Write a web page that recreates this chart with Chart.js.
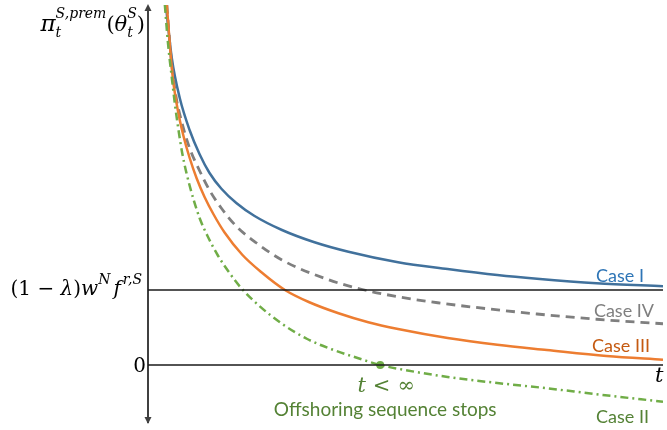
<!DOCTYPE html>
<html>
<head>
<meta charset="utf-8">
<script src="https://cdn.jsdelivr.net/npm/chart.js@4.4.1/dist/chart.umd.min.js"></script>
<style>
  html, body { margin: 0; padding: 0; background: #fff; }
  #wrap { width: 667px; height: 430px; }
</style>
</head>
<body>
<div id="wrap"><canvas id="chart" width="667" height="430"></canvas></div>
<script>
// ===============================
// DATA
// ===============================
const tCaseI = [1.8, 2.4, 3.2, 4.2, 5.2, 6.2, 7.4, 8.9, 10.7, 13.5, 16.7, 20.2, 25.2, 30.2, 35.2, 39.2, 45.2, 51.9];
const yCaseI = [4.8, 4.09, 3.56, 3.13, 2.81, 2.56, 2.35, 2.16, 1.99, 1.8, 1.64, 1.51, 1.37, 1.28, 1.2, 1.15, 1.09, 1.05];

const tCaseIV = [1.9, 2.3, 2.8, 3.4, 4.2, 5.2, 6.2, 7.4, 8.9, 10.9, 13.5, 17.9, 21.5, 25.2, 29.2, 34.2, 39.2, 45.2, 51.9];
const yCaseIV = [4.8, 4.13, 3.6, 3.24, 2.89, 2.59, 2.33, 2.09, 1.85, 1.63, 1.4, 1.15, 1.01, 0.91, 0.83, 0.75, 0.68, 0.61, 0.55];

const tCaseIII = [1.9, 2.2, 2.5, 3.0, 3.6, 4.2, 4.9, 5.7, 6.6, 7.7, 9.5, 11.4, 13.8, 16.2, 19.2, 22.2, 25.2, 30.2, 35.2, 40.2, 46.2, 51.9];
const yCaseIII = [4.8, 4.27, 3.83, 3.4, 3.04, 2.76, 2.49, 2.24, 2.01, 1.77, 1.47, 1.24, 1.0, 0.84, 0.69, 0.57, 0.48, 0.36, 0.27, 0.2, 0.12, 0.07];

const tCaseII = [1.7, 2.0, 2.4, 2.7, 3.1, 3.5, 4.2, 5.2, 6.0, 7.0, 8.2, 9.3, 11.2, 13.5, 16.0, 18.5, 21.2, 23.4, 25.2, 30.2, 35.2, 40.2, 45.2, 51.9];
const yCaseII = [4.8, 4.31, 3.83, 3.49, 3.11, 2.79, 2.39, 1.96, 1.72, 1.47, 1.23, 1.04, 0.79, 0.55, 0.35, 0.21, 0.09, 0.0, -0.05, -0.16, -0.24, -0.31, -0.39, -0.49];

// reference levels: 0 and (1-λ)w^N f^{r,S}
const levels = [0, 1];
const tRange = [0, 51.9];
const yRange = [-0.8, 4.8];

// point where Case II crosses zero
const stopPoint = { x: 23.4, y: 0 };

// colours
const C_BLUE = "#41719c";
const C_GREY = "#7f7f7f";
const C_ORANGE = "#ed7d31";
const C_GREEN = "#70ad47";

function zip(ts, ys) {
  return ts.map((t, i) => ({ x: t, y: ys[i] }));
}

function curve(label, ts, ys, color, dash, width) {
  return {
    label,
    data: zip(ts, ys),
    borderColor: color,
    borderWidth: width,
    borderDash: dash,
    pointRadius: 0,
    fill: false,
    cubicInterpolationMode: "monotone",
  };
}

function levelLine(y) {
  return {
    label: "level " + y,
    data: [{ x: tRange[0], y }, { x: tRange[1], y }],
    borderColor: "#1a1a1a",
    borderWidth: 1.5,
    pointRadius: 0,
    fill: false,
  };
}

// ===============================
// TEXT HELPERS
// ===============================
const SERIF = "'DejaVu Serif'";
function drawRich(ctx, x, y, parts, measureOnly) {
  let cx = x;
  parts.forEach(p => {
    if (p.stack) {
      let w = 0;
      p.stack.forEach(s => {
        ctx.font = s.f;
        if (!measureOnly) ctx.fillText(s.t, cx, y + s.dy);
        w = Math.max(w, ctx.measureText(s.t).width);
      });
      cx += w;
    } else {
      ctx.font = p.f;
      if (!measureOnly) ctx.fillText(p.t, cx, y + (p.dy || 0));
      cx += ctx.measureText(p.t).width + (p.gap || 0);
    }
  });
  return cx - x;
}

const big = "italic 21px " + SERIF;
const bigUp = "21px " + SERIF;
const small = "italic 14px " + SERIF;
const mid = "italic 20px " + SERIF;
const midUp = "20px " + SERIF;

const yLabelParts = [
  { t: "π", f: "italic 23px " + SERIF },
  { stack: [{ t: "S,prem", f: small, dy: -13 }, { t: "t", f: small, dy: 6 }] },
  { t: "(", f: bigUp },
  { t: "θ", f: big },
  { stack: [{ t: "S", f: small, dy: -13 }, { t: "t", f: small, dy: 6 }] },
  { t: ")", f: bigUp },
];

const levelLabelParts = [
  { t: "(1 − ", f: midUp },
  { t: "λ", f: mid },
  { t: ")", f: midUp },
  { t: "w", f: mid },
  { t: "N", f: small, dy: -11, gap: 3 },
  { t: "f", f: mid, gap: 2 },
  { t: "r,S", f: small, dy: -11 },
];

const stopParts = [
  { t: "t", f: big, gap: 7 },
  { t: "<", f: bigUp, gap: 7 },
  { t: "∞", f: bigUp },
];

// ===============================
// AXIS + ANNOTATION PLUGIN
// ===============================
const annotations = {
  id: "annotations",
  beforeDatasetsDraw(chart) {
    const { ctx, chartArea } = chart;
    const x0 = chartArea.left;
    ctx.save();
    ctx.strokeStyle = "#404040";
    ctx.fillStyle = "#404040";
    ctx.lineWidth = 2;
    ctx.beginPath();
    ctx.moveTo(x0, chartArea.top + 2);
    ctx.lineTo(x0, chartArea.bottom - 2);
    ctx.stroke();
    // arrow heads
    ctx.beginPath();
    ctx.moveTo(x0, chartArea.top - 1);
    ctx.lineTo(x0 - 3.5, chartArea.top + 6);
    ctx.lineTo(x0 + 3.5, chartArea.top + 6);
    ctx.closePath();
    ctx.fill();
    ctx.beginPath();
    ctx.moveTo(x0, chartArea.bottom - 1);
    ctx.lineTo(x0 - 3.5, chartArea.bottom - 8);
    ctx.lineTo(x0 + 3.5, chartArea.bottom - 8);
    ctx.closePath();
    ctx.fill();
    ctx.restore();
  },
  afterDatasetsDraw(chart) {
    const { ctx, chartArea, scales } = chart;
    const xs = scales.x, ys = scales.y;
    ctx.save();
    ctx.textBaseline = "alphabetic";
    ctx.textAlign = "left";

    // y axis title
    ctx.fillStyle = "#000";
    let w = drawRich(ctx, 0, 0, yLabelParts, true);
    drawRich(ctx, chartArea.left - 3 - w, 31, yLabelParts);

    // level label
    w = drawRich(ctx, 0, 0, levelLabelParts, true);
    drawRich(ctx, chartArea.left - 6 - w, ys.getPixelForValue(levels[1]) + 5, levelLabelParts);

    // zero
    ctx.font = "20px " + SERIF;
    ctx.textAlign = "right";
    ctx.fillText("0", chartArea.left - 2, ys.getPixelForValue(levels[0]) + 7);
    ctx.textAlign = "left";

    // t axis label
    ctx.font = "italic 21px " + SERIF;
    ctx.fillText("t", chartArea.right - 8, ys.getPixelForValue(levels[0]) + 17);

    // case labels
    ctx.font = "18px Lato";
    ctx.textAlign = "right";
    const right = chartArea.right;
    ctx.fillStyle = "#2e75b6";
    ctx.fillText("Case I", right - 19, ys.getPixelForValue(1.11));
    ctx.fillStyle = "#7f7f7f";
    ctx.fillText("Case IV", right - 9, ys.getPixelForValue(0.64));
    ctx.fillStyle = "#c55a11";
    ctx.fillText("Case III", right - 13, ys.getPixelForValue(0.17));
    ctx.fillStyle = "#548235";
    ctx.fillText("Case II", right - 14, ys.getPixelForValue(-0.77));

    // stop annotation
    ctx.textAlign = "left";
    ctx.fillStyle = "#548235";
    const px = xs.getPixelForValue(stopPoint.x);
    w = drawRich(ctx, 0, 0, stopParts, true);
    drawRich(ctx, px + 6 - w / 2, ys.getPixelForValue(stopPoint.y) + 27, stopParts);
    ctx.font = "19px Lato";
    ctx.textAlign = "center";
    ctx.fillText("Offshoring sequence stops", px + 5, ys.getPixelForValue(stopPoint.y) + 51);
    ctx.restore();
  }
};

// ===============================
// CHART
// ===============================
new Chart(document.getElementById("chart"), {
  type: "line",
  data: {
    datasets: [
      levelLine(levels[0]),
      levelLine(levels[1]),
      curve("Case II", tCaseII, yCaseII, C_GREEN, [8, 4, 2, 4], 2.5),
      curve("Case III", tCaseIII, yCaseIII, C_ORANGE, [], 2.5),
      curve("Case IV", tCaseIV, yCaseIV, C_GREY, [9, 6], 2.8),
      curve("Case I", tCaseI, yCaseI, C_BLUE, [], 2.5),
      {
        type: "scatter",
        label: "stop",
        data: [stopPoint],
        pointRadius: 4,
        pointBackgroundColor: C_GREEN,
        pointBorderWidth: 0,
      },
    ],
  },
  options: {
    responsive: false,
    animation: false,
    devicePixelRatio: 1,
    layout: { padding: { left: 148, right: 0, top: 5, bottom: 5 } },
    plugins: { legend: { display: false }, tooltip: { enabled: false } },
    scales: {
      x: { type: "linear", min: tRange[0], max: tRange[1], display: false },
      y: { type: "linear", min: yRange[0], max: yRange[1], display: false },
    },
  },
  plugins: [annotations],
});
</script>
</body>
</html>
